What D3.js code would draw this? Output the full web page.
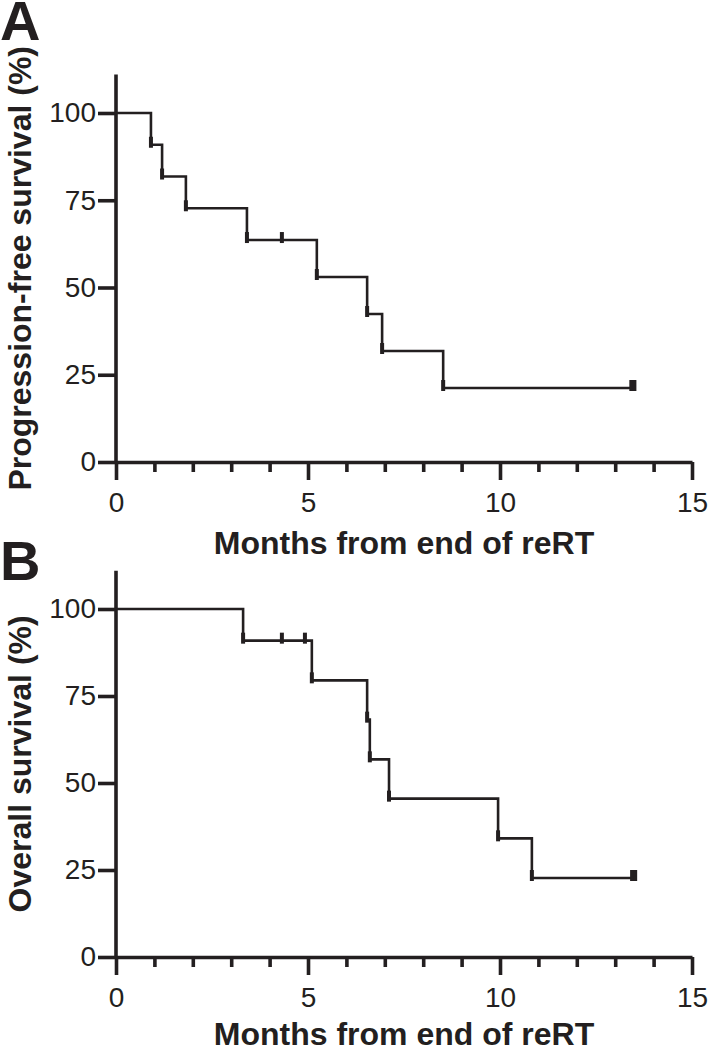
<!DOCTYPE html>
<html>
<head>
<meta charset="utf-8">
<script src="https://cdn.jsdelivr.net/npm/d3@7"></script>
<style>
  body { margin: 0; background: #fff; }
  svg { display: block; }
  text { font-family: "Liberation Sans", Arial, sans-serif; fill: #231f20; }
</style>
</head>
<body>
<div id="chart"></div>
<script>
// Kaplan-Meier steps (months, % surviving after the drop)
const pfsTimes = [0.91, 1.2, 1.82, 3.41, 5.23, 6.54, 6.93, 8.52];
const pfsSurv = [90.9, 81.8, 72.7, 63.6, 53.0, 42.4, 31.8, 21.2];
const pfsCensor = [4.32, 13.42, 13.5];

const osTimes = [3.31, 5.1, 6.54, 6.61, 7.11, 9.95, 10.83];
const osSurv = [90.9, 79.5, 68.2, 56.8, 45.5, 34.1, 22.7];
const osCensor = [4.32, 4.92, 13.44, 13.52];

const monthTicks = [0, 5, 10, 15];
const monthMinor = [1, 2, 3, 4, 6, 7, 8, 9, 11, 12, 13, 14];
const pctTicks = [0, 25, 50, 75, 100];

const xTitle = "Months from end of reRT";
const ink = "#231f20";

const width = 709, height = 1052;

const svg = d3.select("#chart")
    .append("svg")
    .attr("width", width)
    .attr("height", height);

const x = d3.scaleLinear().domain([0, 15]).range([116, 692]);

function drawPanel(letter, letterY, yTitle, times, surv, censor, y0, y100, titleY) {
    const y = d3.scaleLinear().domain([0, 100]).range([y0, y100]);
    const yTop = y(111);
    const g = svg.append("g");

    // minor x ticks
    g.append("g")
        .attr("transform", `translate(0,${y0})`)
        .call(d3.axisBottom(x).tickValues(monthMinor).tickSize(10).tickFormat(""))
        .call(a => a.select(".domain").remove());

    // major x ticks + labels
    const xa = g.append("g")
        .attr("transform", `translate(0,${y0})`)
        .call(d3.axisBottom(x).tickValues(monthTicks).tickSize(18).tickSizeOuter(0).tickPadding(12));
    xa.selectAll("text").attr("font-size", 28).attr("fill", ink);

    // y axis
    const ya = g.append("g")
        .attr("transform", `translate(${x(0)},0)`)
        .call(d3.axisLeft(y).tickValues(pctTicks).tickSize(18).tickSizeOuter(0).tickPadding(2));
    ya.select(".domain").attr("d", `M0,${y0}V${yTop}`);
    ya.selectAll("text").attr("font-size", 28).attr("fill", ink);

    g.selectAll(".domain, .tick line")
        .attr("stroke", ink)
        .attr("stroke-width", 3.6);

    // survival step line
    const pts = [{t: 0, s: 100}].concat(times.map((t, i) => ({t: t, s: surv[i]})));
    pts.push({t: d3.max(censor), s: surv[surv.length - 1]});
    const line = d3.line()
        .x(d => x(d.t))
        .y(d => y(d.s))
        .curve(d3.curveStepAfter);
    g.append("path")
        .datum(pts)
        .attr("fill", "none")
        .attr("stroke", ink)
        .attr("stroke-width", 2.6)
        .attr("d", line);

    // tick marks at drops and at censored times
    const survAt = t => {
        let s = 100;
        times.forEach((tt, i) => { if (tt <= t) s = surv[i]; });
        return s;
    };
    const marks = times.map((t, i) => ({t: t, s: surv[i]}))
        .concat(censor.map(t => ({t: t, s: survAt(t)})));
    g.selectAll(".mark")
        .data(marks)
        .enter()
        .append("line")
        .attr("class", "mark")
        .attr("x1", d => x(d.t))
        .attr("x2", d => x(d.t))
        .attr("y1", d => y(d.s) - 8)
        .attr("y2", d => y(d.s) + 3)
        .attr("stroke", ink)
        .attr("stroke-width", 4);

    // titles
    g.append("text")
        .attr("x", (x(0) + x(15)) / 2)
        .attr("y", titleY)
        .attr("text-anchor", "middle")
        .attr("font-size", 32)
        .attr("font-weight", "bold")
        .text(xTitle);

    g.append("text")
        .attr("transform", `translate(31,${(y0 + yTop) / 2}) rotate(-90)`)
        .attr("text-anchor", "middle")
        .attr("font-size", 32)
        .attr("font-weight", "bold")
        .text(yTitle);

    g.append("text")
        .attr("x", 0)
        .attr("y", letterY)
        .attr("font-size", 56)
        .attr("font-weight", "bold")
        .text(letter);
}

drawPanel("A", 40, "Progression-free survival (%)", pfsTimes, pfsSurv, pfsCensor, 462, 113, 554);
drawPanel("B", 580, "Overall survival (%)", osTimes, osSurv, osCensor, 957, 609, 1045);
</script>
</body>
</html>
